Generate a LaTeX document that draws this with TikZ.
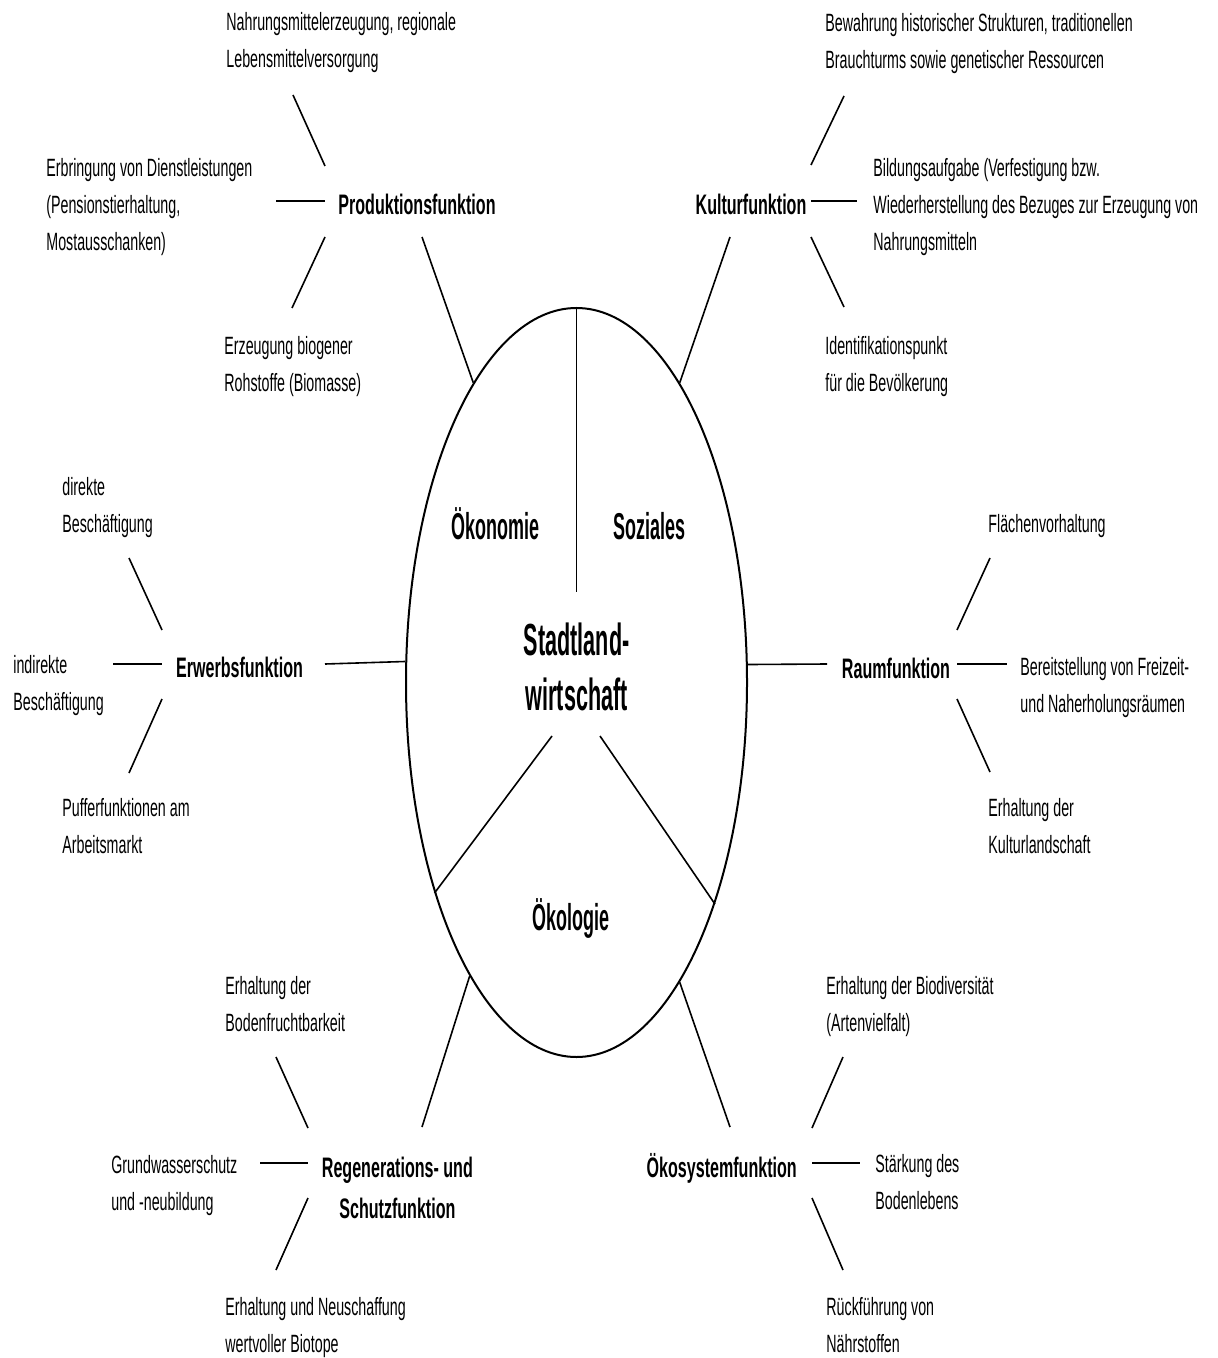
\documentclass[tikz,border=0pt]{standalone}
\usepackage{fontspec}
\setmainfont{Liberation Sans}[FakeStretch=0.57]
\newfontfamily\narrowfont{Liberation Sans}[FakeStretch=0.48]
\usetikzlibrary{shapes.geometric}

\begin{document}
\begin{tikzpicture}[x=0.5pt,y=-0.5pt]
            \tikzstyle{leaf}=[anchor=north west, inner sep=0pt, align=left, font=\fontsize{12.5pt}{18.5pt}\selectfont]
            \tikzstyle{func}=[anchor=base, inner sep=0pt, align=center, font=\bfseries\fontsize{14.1pt}{20.5pt}\selectfont]
            \tikzstyle{sector}=[anchor=base, inner sep=0pt, font=\narrowfont\bfseries\fontsize{18.7pt}{22pt}\selectfont]
            \tikzstyle{core}=[anchor=north, inner sep=0pt, align=center, font=\narrowfont\bfseries\fontsize{22.5pt}{27.5pt}\selectfont]
            \tikzstyle{spoke}=[line width=0.8pt]

            \useasboundingbox (0,0) rectangle (1218,1358);

            % Kern
            \node[draw, ellipse, line width=1pt, minimum width=170.5pt, minimum height=374.5pt, inner sep=0pt] (ell) at (576.5,682.5) {};
            \node[core] (mitte) at (576.7,622) {Stadtland-\\wirtschaft};
            \node[sector] (oekonomie) at (495.5,539) {Ökonomie};
            \node[sector] (soziales) at (649.7,539) {Soziales};
            \node[sector] (oekologie) at (571.3,930) {Ökologie};

            \coordinate (split-top) at (576.5,592);
            \coordinate (split-l) at (552,736);
            \coordinate (split-r) at (600,736);
            \draw[spoke] (ell.north) -- (split-top);
            \draw[spoke] (split-l) -- (ell.236.4);
            \draw[spoke] (split-r) -- (ell.302.7);

            % Funktionen
            \node[func] (prod) at (417,215) {Produktionsfunktion};
            \node[func] (kultur) at (751,215) {Kulturfunktion};
            \node[func] (erwerb) at (239.5,677) {Erwerbsfunktion};
            \node[func] (raum) at (896,678) {Raumfunktion};
            \node[func, anchor=north] (regen) at (397.4,1157) {Regenerations- und\\Schutzfunktion};
            \node[func] (oekosys) at (721.7,1177) {Ökosystemfunktion};

            % Produktionsfunktion
            \node[leaf] (nahrung) at (226,12) {Nahrungsmittelerzeugung, regionale\\Lebensmittelversorgung};
            \node[leaf] (dienst) at (46,158) {Erbringung von Dienstleistungen\\(Pensionstierhaltung,\\Mostausschanken)};
            \node[leaf] (biogen) at (224,336) {Erzeugung biogener\\Rohstoffe (Biomasse)};
            \coordinate (pu-a) at (293,95);   \coordinate (pu-b) at (325,166);
            \coordinate (ph-a) at (276,201);  \coordinate (ph-b) at (325,201);
            \coordinate (pd-a) at (325,237);  \coordinate (pd-b) at (292,308);
            \coordinate (pc) at (422,237);
            \draw[spoke] (pu-a) -- (pu-b);
            \draw[spoke] (ph-a) -- (ph-b);
            \draw[spoke] (pd-a) -- (pd-b);
            \draw[spoke] (pc) -- (ell.109.2);

            % Kulturfunktion
            \node[leaf] (bewahr) at (825,13) {Bewahrung historischer Strukturen, traditionellen\\Brauchturms sowie genetischer Ressourcen};
            \node[leaf] (bildung) at (873,158) {Bildungsaufgabe (Verfestigung bzw.\\Wiederherstellung des Bezuges zur Erzeugung von\\Nahrungsmitteln};
            \node[leaf] (ident) at (825,336) {Identifikationspunkt\\für die Bevölkerung};
            \coordinate (ku-a) at (844,96);   \coordinate (ku-b) at (811,165);
            \coordinate (kh-a) at (811,201);  \coordinate (kh-b) at (857,201);
            \coordinate (kd-a) at (811,237);  \coordinate (kd-b) at (844,307);
            \coordinate (kc) at (730,237);
            \draw[spoke] (ku-a) -- (ku-b);
            \draw[spoke] (kh-a) -- (kh-b);
            \draw[spoke] (kd-a) -- (kd-b);
            \draw[spoke] (kc) -- (ell.71.1);

            % Erwerbsfunktion
            \node[leaf] (direkt) at (62,477) {direkte\\Beschäftigung};
            \node[leaf] (indirekt) at (13,655) {indirekte\\Beschäftigung};
            \node[leaf] (puffer) at (62,798) {Pufferfunktionen am\\Arbeitsmarkt};
            \coordinate (eu-a) at (129,558);  \coordinate (eu-b) at (162,630);
            \coordinate (eh-a) at (113,664);  \coordinate (eh-b) at (162,664);
            \coordinate (ed-a) at (162,699);  \coordinate (ed-b) at (129,773);
            \coordinate (ec) at (325,664);
            \draw[spoke] (eu-a) -- (eu-b);
            \draw[spoke] (eh-a) -- (eh-b);
            \draw[spoke] (ed-a) -- (ed-b);
            \draw[spoke] (ec) -- (ell.173.8);

            % Raumfunktion
            \node[leaf] (flaeche) at (988,514) {Flächenvorhaltung};
            \node[leaf] (freizeit) at (1020,657) {Bereitstellung von Freizeit-\\und Naherholungsräumen};
            \node[leaf] (kulturland) at (988,798) {Erhaltung der\\Kulturlandschaft};
            \coordinate (ru-a) at (957,630);  \coordinate (ru-b) at (990,558);
            \coordinate (rh-a) at (957,664);  \coordinate (rh-b) at (1007,664);
            \coordinate (rd-a) at (957,699);  \coordinate (rd-b) at (990,772);
            \coordinate (rc) at (827,664);
            \draw[spoke] (ru-a) -- (ru-b);
            \draw[spoke] (rh-a) -- (rh-b);
            \draw[spoke] (rd-a) -- (rd-b);
            \draw[spoke] (rc) -- (ell.6.2);

            % Regenerations- und Schutzfunktion
            \node[leaf] (bodenfr) at (225,976) {Erhaltung der\\Bodenfruchtbarkeit};
            \node[leaf] (grundw) at (111,1155) {Grundwasserschutz\\und -neubildung};
            \node[leaf] (biotop) at (225,1297) {Erhaltung und Neuschaffung\\wertvoller Biotope};
            \coordinate (gu-a) at (276,1057); \coordinate (gu-b) at (308,1128);
            \coordinate (gh-a) at (260,1163); \coordinate (gh-b) at (308,1163);
            \coordinate (gd-a) at (308,1198); \coordinate (gd-b) at (276,1270);
            \coordinate (gc) at (422,1127);
            \draw[spoke] (gu-a) -- (gu-b);
            \draw[spoke] (gh-a) -- (gh-b);
            \draw[spoke] (gd-a) -- (gd-b);
            \draw[spoke] (gc) -- (ell.250.6);

            % Oekosystemfunktion
            \node[leaf] (biodiv) at (826,976) {Erhaltung der Biodiversität\\(Artenvielfalt)};
            \node[leaf] (bodenleb) at (875,1154) {Stärkung des\\Bodenlebens};
            \node[leaf] (naehr) at (826,1297) {Rückführung von\\Nährstoffen};
            \coordinate (ou-a) at (843,1057); \coordinate (ou-b) at (812,1128);
            \coordinate (oh-a) at (812,1163); \coordinate (oh-b) at (860,1163);
            \coordinate (od-a) at (812,1198); \coordinate (od-b) at (843,1270);
            \coordinate (oc) at (730,1127);
            \draw[spoke] (ou-a) -- (ou-b);
            \draw[spoke] (oh-a) -- (oh-b);
            \draw[spoke] (od-a) -- (od-b);
            \draw[spoke] (oc) -- (ell.289.2);
\end{tikzpicture}
\end{document}
